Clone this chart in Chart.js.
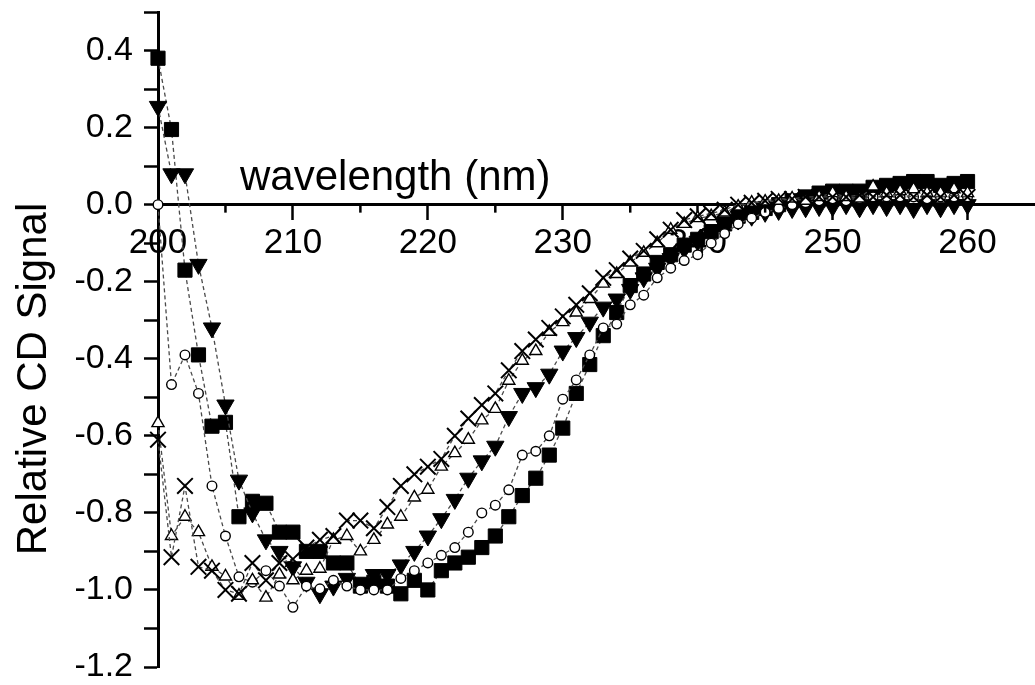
<!DOCTYPE html>
<html><head><meta charset="utf-8">
<script src="https://cdn.jsdelivr.net/npm/chart.js@4/dist/chart.umd.min.js"></script>
<style>html,body{margin:0;padding:0;background:#fff}#wrap{width:1035px;height:685px}</style>
</head><body><div id="wrap"><canvas id="c" width="1035" height="685"></canvas></div>
<script>
const wavelengths = [200,201,202,203,204,205,206,207,208,209,210,211,212,213,214,215,216,217,218,219,220,221,222,223,224,225,226,227,228,229,230,231,232,233,234,235,236,237,238,239,240,241,242,243,244,245,246,247,248,249,250,251,252,253,254,255,256,257,258,259,260];

const filledSquares = [0.38,0.195,-0.17,-0.39,-0.575,-0.565,-0.81,-0.77,-0.775,-0.85,-0.85,-0.90,-0.90,-0.93,-0.93,-0.99,-0.98,-0.99,-1.01,-0.975,-1.0,-0.95,-0.93,-0.915,-0.89,-0.86,-0.81,-0.755,-0.71,-0.65,-0.58,-0.49,-0.415,-0.34,-0.28,-0.21,-0.18,-0.15,-0.13,-0.105,-0.09,-0.07,-0.05,-0.03,-0.02,-0.01,0.0,0.01,0.02,0.03,0.035,0.035,0.035,0.045,0.05,0.055,0.06,0.06,0.05,0.055,0.06];

const filledTriangles = [0.255,0.08,0.08,-0.155,-0.32,-0.52,-0.715,-0.80,-0.87,-0.90,-0.94,-0.98,-1.01,-0.99,-0.97,-0.98,-0.96,-0.96,-0.935,-0.90,-0.86,-0.815,-0.765,-0.71,-0.665,-0.627,-0.55,-0.49,-0.475,-0.44,-0.38,-0.345,-0.305,-0.266,-0.245,-0.22,-0.19,-0.165,-0.14,-0.115,-0.095,-0.075,-0.055,-0.04,-0.03,-0.02,-0.015,-0.01,-0.008,-0.005,-0.005,0.0,-0.008,0.0,-0.005,0.0,-0.01,0.0,-0.008,0.0,0.0];

const openCircles = [0.0,-0.467,-0.39,-0.49,-0.73,-0.86,-0.966,-0.98,-0.95,-0.99,-1.045,-0.99,-0.997,-0.975,-0.99,-1.0,-1.0,-1.0,-0.97,-0.95,-0.93,-0.91,-0.89,-0.85,-0.80,-0.78,-0.74,-0.65,-0.64,-0.60,-0.505,-0.455,-0.39,-0.32,-0.31,-0.26,-0.235,-0.19,-0.165,-0.145,-0.13,-0.10,-0.075,-0.05,-0.035,-0.02,-0.01,0.0,0.005,0.01,0.015,0.01,0.015,0.02,0.02,0.02,0.02,0.015,0.02,0.02,0.02];

const openTriangles = [-0.567,-0.86,-0.81,-0.85,-0.94,-0.965,-1.015,-0.975,-1.02,-0.96,-0.975,-0.95,-0.945,-0.87,-0.86,-0.90,-0.87,-0.83,-0.81,-0.76,-0.74,-0.68,-0.645,-0.61,-0.56,-0.53,-0.457,-0.405,-0.38,-0.33,-0.305,-0.28,-0.245,-0.205,-0.18,-0.15,-0.125,-0.10,-0.065,-0.05,-0.035,-0.03,-0.02,-0.005,0.005,0.008,0.01,0.016,0.01,0.02,0.03,0.02,0.016,0.047,0.03,0.035,0.04,0.03,0.03,0.04,0.03];

const crosses = [-0.61,-0.915,-0.73,-0.94,-0.95,-1.0,-1.01,-0.93,-0.975,-0.93,-0.92,-0.89,-0.87,-0.86,-0.82,-0.82,-0.84,-0.785,-0.73,-0.70,-0.68,-0.66,-0.60,-0.555,-0.52,-0.49,-0.43,-0.38,-0.35,-0.32,-0.29,-0.26,-0.23,-0.19,-0.17,-0.14,-0.12,-0.09,-0.065,-0.04,-0.03,-0.023,-0.013,0.0,0.005,0.01,0.015,0.015,0.02,0.02,0.02,0.02,0.025,0.02,0.025,0.025,0.02,0.025,0.02,0.025,0.02];

const xMajorTicks = [210,220,230,240,250,260];
const xMinorTicks = [205,215,225,235,245,255];
const yTitle = 'Relative CD Signal';
const xTitle = 'wavelength (nm)';

const FONT = '"Liberation Sans", Arial, Helvetica, sans-serif';

function pts(arr){ return wavelengths.map((w,i)=>({x:w,y:arr[i]})); }

const common = {
  showLine:true, borderDash:[4,3], borderWidth:1.3, borderColor:'#4a4a4a',
  pointBorderColor:'#000', clip:false, tension:0, fill:false
};

const extras = {
  id:'extras',
  afterDraw(chart){
    const ctx = chart.ctx, xs = chart.scales.x, ys = chart.scales.y;
    const y0 = ys.getPixelForValue(0);
    ctx.save();
    ctx.strokeStyle = '#000'; ctx.lineWidth = 2.5;
    xMinorTicks.forEach(v=>{
      const px = xs.getPixelForValue(v);
      ctx.beginPath(); ctx.moveTo(px, y0); ctx.lineTo(px, y0+8); ctx.stroke();
    });
    ctx.fillStyle = '#000';
    ctx.font = '42px ' + FONT;
    ctx.textAlign = 'left'; ctx.textBaseline = 'alphabetic';
    ctx.fillText(xTitle, 240, 190);
    ctx.translate(46, 379);
    ctx.rotate(-Math.PI/2);
    ctx.textAlign = 'center';
    ctx.fillText(yTitle, 0, 0);
    ctx.restore();
  }
};

new Chart(document.getElementById('c'), {
  type:'line',
  data:{ datasets:[
    Object.assign({}, common, {label:'crosses', data:pts(crosses), order:0,
      pointStyle:'crossRot', pointRadius:11, pointBorderWidth:2, pointBackgroundColor:'#000'}),
    Object.assign({}, common, {label:'open triangles', data:pts(openTriangles), order:1,
      pointStyle:'triangle', pointRadius:7, pointBorderWidth:1.4, pointBackgroundColor:'#fff'}),
    Object.assign({}, common, {label:'open circles', data:pts(openCircles), order:2,
      pointStyle:'circle', pointRadius:4.8, pointBorderWidth:1.4, pointBackgroundColor:'#fff'}),
    Object.assign({}, common, {label:'filled triangles', data:pts(filledTriangles), order:3,
      pointStyle:'triangle', pointRotation:180, pointRadius:10, pointBorderWidth:1, pointBackgroundColor:'#000'}),
    Object.assign({}, common, {label:'filled squares', data:pts(filledSquares), order:4,
      pointStyle:'rect', pointRadius:10, pointBorderWidth:1, pointBackgroundColor:'#000'})
  ]},
  options:{
    responsive:false, animation:false, devicePixelRatio:1,
    layout:{autoPadding:false, padding:{left:0,right:0,top:12,bottom:18}},
    plugins:{legend:{display:false}, tooltip:{enabled:false}},
    scales:{
      x:{
        type:'linear', min:200, max:265, position:{y:0},
        afterFit:(s)=>{ s.paddingLeft = 0; s.paddingRight = 0; },
        border:{display:true, color:'#000', width:3},
        grid:{drawOnChartArea:false, drawTicks:true, tickLength:14, tickWidth:2.5,
          tickColor:(c)=> (c.tick && xMajorTicks.includes(Math.round(c.tick.value))) ? '#000' : 'rgba(0,0,0,0)'},
        ticks:{stepSize:5, autoSkip:false, maxRotation:0, padding:4, color:'#000',
          font:{size:35, family:FONT},
          callback:(v)=> (Math.round(v)%10===0 && v<=260) ? String(Math.round(v)) : ''}
      },
      y:{
        type:'linear', min:-1.2, max:0.5, position:'left',
        afterFit:(s)=>{ s.width = 158; s.paddingTop = 0; s.paddingBottom = 0; },
        border:{display:true, color:'#000', width:3},
        grid:{drawOnChartArea:false, drawTicks:true, tickLength:14, tickWidth:2.5, tickColor:'#000'},
        ticks:{stepSize:0.1, autoSkip:false, padding:11, color:'#000',
          font:{size:34, family:FONT},
          callback:(v)=>{ const k = Math.round(v*10); if (k % 2 !== 0) return ''; const s=(k/10).toFixed(1); return k===0 ? '0.0' : s; }}
      }
    }
  },
  plugins:[extras]
});
</script></body></html>
